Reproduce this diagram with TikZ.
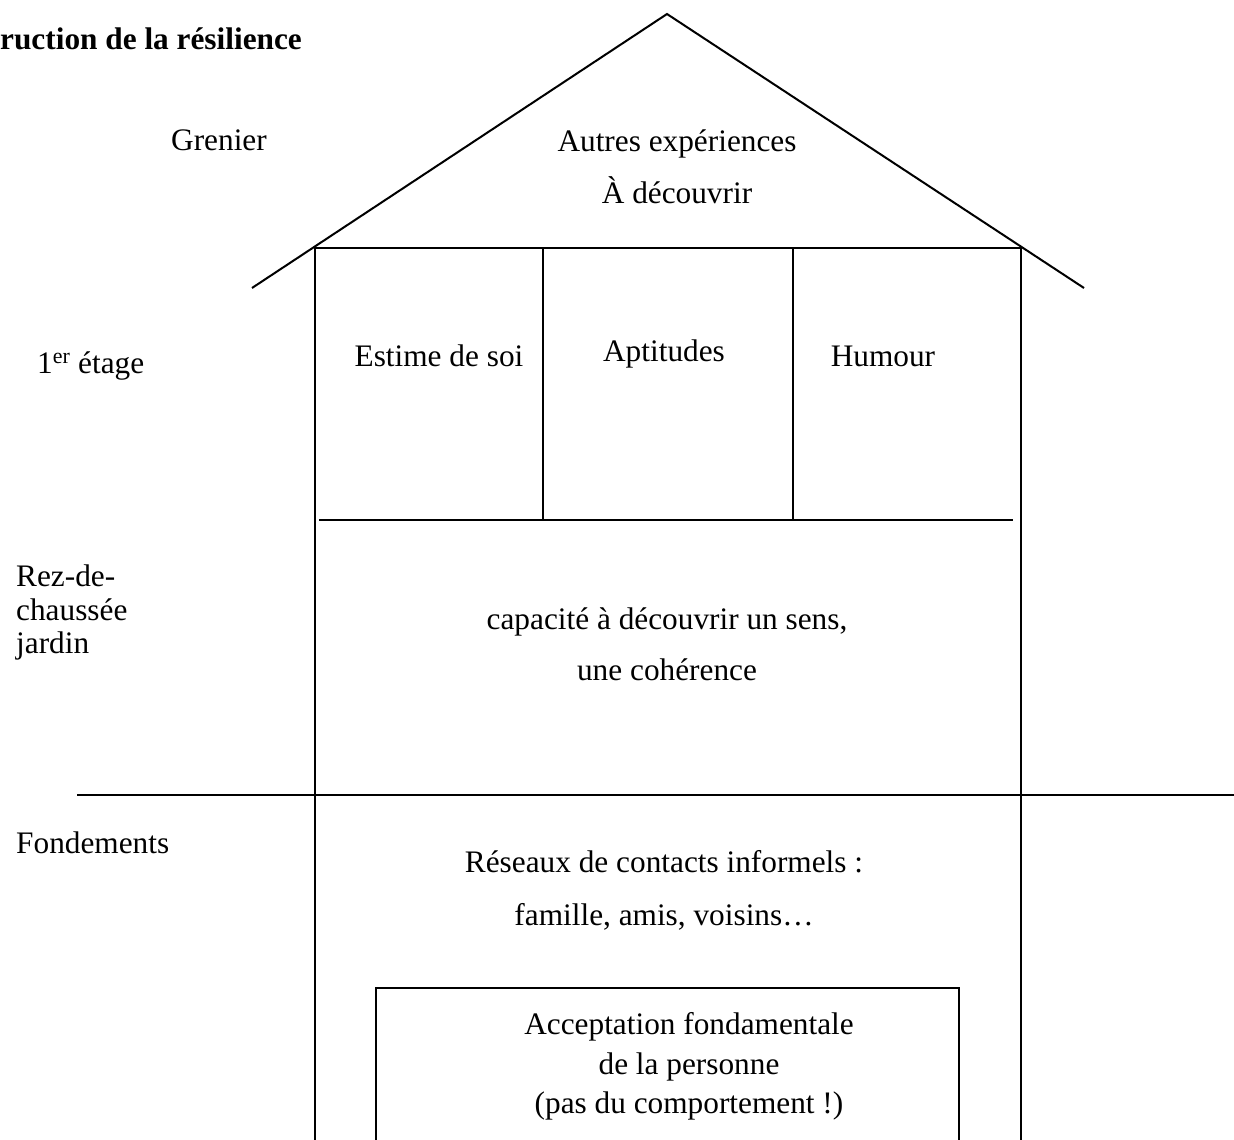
\documentclass[tikz,border=0pt]{standalone}
\usepackage{fontspec}
\setmainfont{Liberation Serif}
\begin{document}
\begin{tikzpicture}[x=1pt,y=-1pt,
  wall/.style={line width=2pt,line cap=rect},
  lbl/.style={inner sep=0pt,font=\fontsize{31.3}{36}\selectfont},
  lblc/.style={lbl,anchor=base},
  lblw/.style={lbl,anchor=base west}]
\useasboundingbox (0,0) rectangle (1234,1140);
% roof
\coordinate (apex) at (667,14);
\coordinate (roofL) at (252,288);
\coordinate (roofR) at (1084,288);
\draw[line width=2pt] (roofL) -- (apex) -- (roofR);
% house
\coordinate (tl) at (315,248);
\coordinate (tr) at (1021,248);
\coordinate (bl) at (315,1140);
\coordinate (br) at (1021,1140);
\draw[wall] (bl) -- (tl) -- (tr) -- (br);
% first floor rooms
\coordinate (m1t) at (543,248);
\coordinate (m1b) at (543,520);
\coordinate (m2t) at (793,248);
\coordinate (m2b) at (793,520);
\draw[wall] (m1t) -- (m1b);
\draw[wall] (m2t) -- (m2b);
\coordinate (fl) at (320,520);
\coordinate (fr) at (1012,520);
\draw[wall] (fl) -- (fr);
% ground line
\coordinate (gl) at (78,795);
\coordinate (gr) at (1234,795);
\draw[wall] (gl) -- (gr);
% foundation box
\coordinate (b1) at (376,1140);
\coordinate (b2) at (376,988);
\coordinate (b3) at (959,988);
\coordinate (b4) at (959,1140);
\draw[wall] (b1) -- (b2) -- (b3) -- (b4);
% texts
\node[lblw,font=\fontsize{31.3}{36}\selectfont\bfseries] (title) at (0,49) {ruction de la résilience};
\node[lblc] (grenier) at (219,150) {Grenier};
\node[lblc] (autres) at (677,151) {Autres expériences};
\node[lblc] (adec) at (677,203) {À découvrir};
\node[lblw] (etage) at (37,373) {1\textsuperscript{er} étage};
\node[lblc] (estime) at (439,366) {Estime de soi};
\node[lblc] (apt) at (664,361) {Aptitudes};
\node[lblc] (humour) at (883,366) {Humour};
\node[lblw] (rez1) at (16,586) {Rez-de-};
\node[lblw] (rez2) at (16,620) {chaussée};
\node[lblw] (rez3) at (16,653) {jardin};
\node[lblc] (cap1) at (667,629) {capacité à découvrir un sens,};
\node[lblc] (cap2) at (667,680) {une cohérence};
\node[lblw] (fond) at (16,853) {Fondements};
\node[lblc] (res1) at (664,872) {Réseaux de contacts informels :};
\node[lblc] (res2) at (664,925) {famille, amis, voisins…};
\node[lblc] (acc1) at (689,1034) {Acceptation fondamentale};
\node[lblc] (acc2) at (689,1074) {de la personne};
\node[lblc] (acc3) at (689,1113) {(pas du comportement !)};
\end{tikzpicture}
\end{document}
